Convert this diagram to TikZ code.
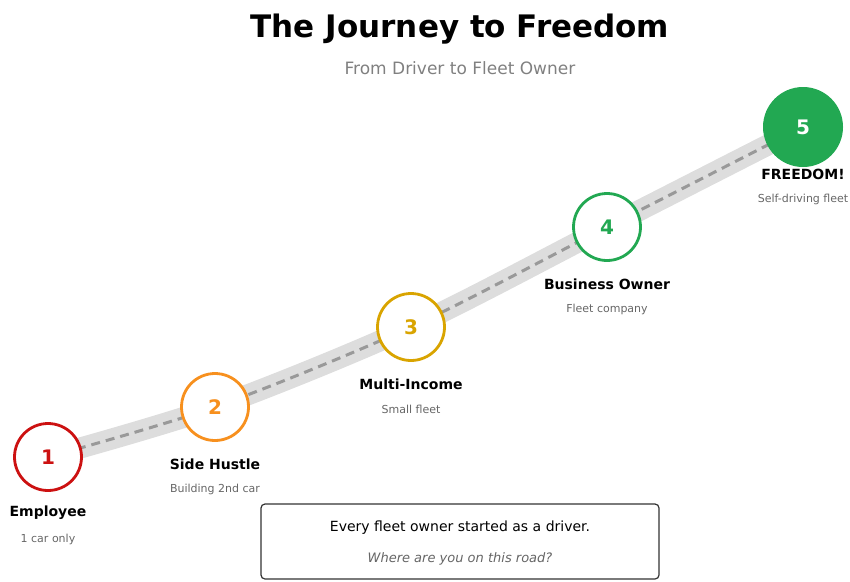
\documentclass[tikz,border=0pt]{standalone}
\usepackage{fontspec}
\setmainfont{DejaVu Sans}
\definecolor{cred}{HTML}{CC1111}
\definecolor{corange}{HTML}{F7901E}
\definecolor{cgold}{HTML}{D9A400}
\definecolor{cgreen}{HTML}{22A852}
\definecolor{roadgray}{HTML}{DDDDDD}
\definecolor{dashgray}{HTML}{999999}
\definecolor{subgray}{HTML}{666666}
\definecolor{titlegray}{HTML}{808080}
\begin{document}
\begin{tikzpicture}[x=1pt,y=-1pt,
  stage/.style={circle,draw=#1,line width=2.8pt,fill=white,minimum size=67pt,inner sep=0pt,text=#1,font=\bfseries\fontsize{20}{24}\selectfont},
  stagename/.style={font=\bfseries\fontsize{14}{17}\selectfont,text=black,inner sep=0pt},
  stagesub/.style={font=\fontsize{11}{13}\selectfont,text=subgray,inner sep=0pt}]
\useasboundingbox (0,0) rectangle (850,581);
\node[font=\bfseries\fontsize{31}{36}\selectfont,inner sep=0pt] (title) at (460,29) {The Journey to Freedom};
\node[font=\fontsize{17}{20}\selectfont,text=titlegray,inner sep=0pt] (subtitle) at (460,68) {From Driver to Fleet Owner};
% road
\coordinate (p1) at (48,457);
\coordinate (p2) at (215,407);
\coordinate (p3) at (411,327);
\coordinate (p4) at (607,227);
\coordinate (p5) at (803,127);
\draw[roadgray,line width=21pt] plot[smooth,tension=0.5] coordinates {(48,457) (215,407) (411,327) (607,227) (803,127)};
\draw[dashgray,line width=3pt,dash pattern=on 9pt off 6pt] plot[smooth,tension=0.5] coordinates {(48,457) (215,407) (411,327) (607,227) (803,127)};
% stages
\node[stage=cred] (s1) at (p1) {1};
\node[stage=corange] (s2) at (p2) {2};
\node[stage=cgold] (s3) at (p3) {3};
\node[stage=cgreen] (s4) at (p4) {4};
\node[circle,fill=cgreen,minimum size=80pt,inner sep=0pt,text=white,font=\bfseries\fontsize{20}{24}\selectfont] (s5) at (p5) {5};
\node[stagename] (n1) at (48,513) {Employee};
\node[stagesub] (d1) at (48,539) {1 car only};
\node[stagename] (n2) at (215,464) {Side Hustle};
\node[stagesub] (d2) at (215,489) {Building 2nd car};
\node[stagename] (n3) at (411,384) {Multi-Income};
\node[stagesub] (d3) at (411,409) {Small fleet};
\node[stagename] (n4) at (607,284) {Business Owner};
\node[stagesub] (d4) at (607,309) {Fleet company};
\node[stagename] (n5) at (803,174) {FREEDOM!};
\node[stagesub] (d5) at (803,199) {Self-driving fleet};
% box
\draw[draw=black!80,line width=1.2pt,rounded corners=4pt,fill=white] (261,504) rectangle (659,579);
\node[font=\fontsize{14}{17}\selectfont,inner sep=0pt] (b1) at (460,528) {Every fleet owner started as a driver.};
\node[font=\itshape\fontsize{13}{16}\selectfont,text=subgray,inner sep=0pt] (b2) at (460,559) {Where are you on this road?};
\end{tikzpicture}
\end{document}
